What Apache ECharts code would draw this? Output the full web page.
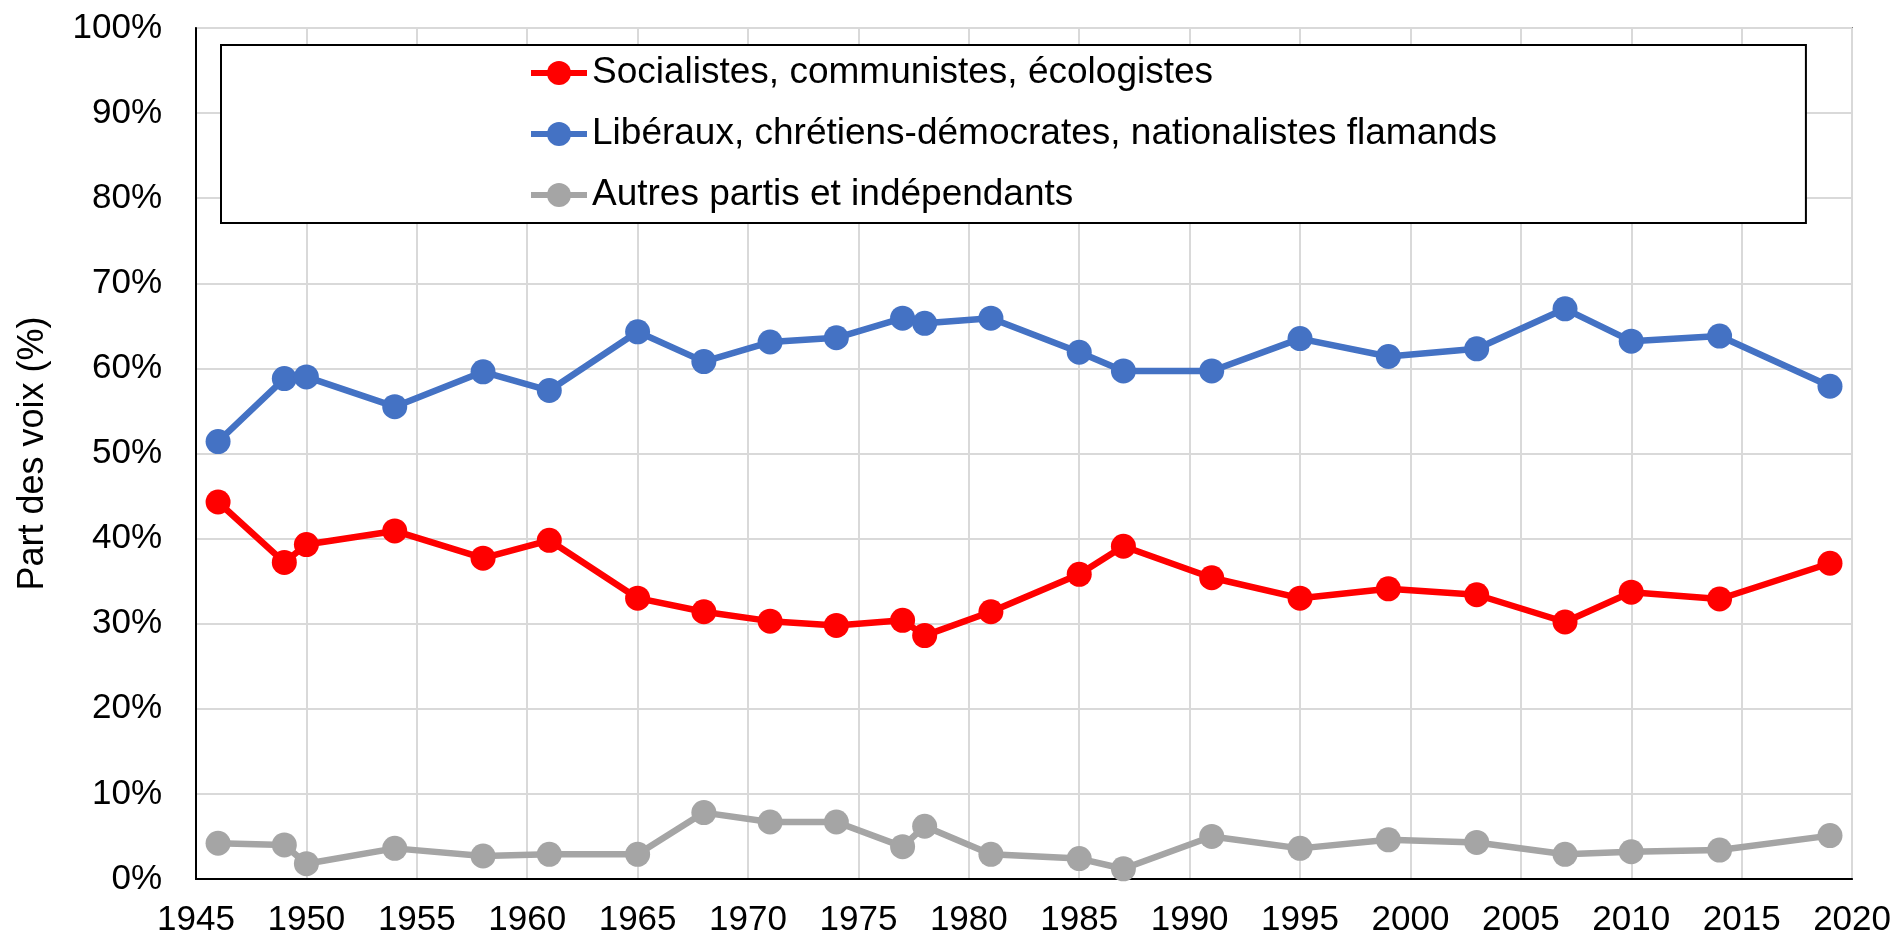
<!DOCTYPE html>
<html>
<head>
<meta charset="utf-8">
<script src="https://cdn.jsdelivr.net/npm/echarts@6/dist/echarts.min.js"></script>
<style>
  html, body { margin: 0; padding: 0; background: #fff; }
  #chart { width: 1894px; height: 941px; }
</style>
</head>
<body>
<div id="chart"></div>
<script>
// années des élections
const years = [1946, 1949, 1950, 1954, 1958, 1961, 1965, 1968, 1971, 1974, 1977, 1978,
  1981, 1985, 1987, 1991, 1995, 1999, 2003, 2007, 2010, 2014, 2019]

const gauche = [44.3, 37.2, 39.3, 40.9, 37.7, 39.8, 33.0, 31.4, 30.3, 29.8, 30.4, 28.6,
  31.4, 35.8, 39.1, 35.4, 33.0, 34.1, 33.4, 30.2, 33.7, 32.9, 37.1]
const droite = [51.4, 58.8, 59.0, 55.5, 59.6, 57.4, 64.3, 60.8, 63.1, 63.6, 65.9, 65.3,
  65.9, 61.9, 59.7, 59.7, 63.5, 61.4, 62.3, 67.0, 63.2, 63.8, 57.9]
const autres = [4.2, 4.0, 1.8, 3.6, 2.7, 2.9, 2.9, 7.8, 6.7, 6.7, 3.8, 6.2,
  2.9, 2.4, 1.2, 5.0, 3.6, 4.6, 4.3, 2.9, 3.2, 3.4, 5.1]

const seriesNames = [
  'Socialistes, communistes, écologistes',
  'Libéraux, chrétiens-démocrates, nationalistes flamands',
  'Autres partis et indépendants',
]
const colors = ['#ff0000', '#4472c4', '#a5a5a5']

const font = "'Liberation Sans', Arial, sans-serif"
const pairs = arr => years.map((y, i) => [y, arr[i]])

const chart = echarts.init(document.getElementById('chart'))

const mkSeries = (name, data, color) => ({
  name, type: 'line', data: pairs(data),
  symbol: 'circle', symbolSize: 25,
  lineStyle: { color, width: 6.5 },
  itemStyle: { color },
  emphasis: { disabled: true },
  z: 3,
})

chart.setOption({
  animation: false,
  textStyle: { fontFamily: font },
  grid: {
    left: 196, right: 39, top: 28, bottom: 62,
    show: true, borderColor: '#262626', borderWidth: 1.5, backgroundColor: 'transparent',
  },
  legend: {
    orient: 'vertical',
    left: 221, top: 45,
    padding: [8, 309, 8, 307],
    borderColor: '#000', borderWidth: 2, backgroundColor: '#fff',
    itemWidth: 56, itemHeight: 30, itemGap: 21,
    lineStyle: { width: 6 },
    textStyle: { fontSize: 37, color: '#000', fontFamily: font, lineHeight: 40 },
    data: seriesNames,
  },
  xAxis: {
    type: 'value', min: 1945, max: 2020, interval: 5,
    axisLine: { show: true, onZero: false, lineStyle: { color: '#000', width: 2 } },
    axisTick: { show: false },
    axisLabel: { fontSize: 35, color: '#000', margin: 24, formatter: v => String(v) },
    splitLine: { show: true, lineStyle: { color: '#d9d9d9', width: 2 } },
  },
  yAxis: {
    type: 'value', min: 0, max: 100, interval: 10,
    name: 'Part des voix (%)', nameLocation: 'middle', nameGap: 145,
    nameTextStyle: { fontSize: 36, color: '#000', fontFamily: font },
    axisLine: { show: true, lineStyle: { color: '#000', width: 2 } },
    axisTick: { show: false },
    axisLabel: { fontSize: 35, color: '#000', margin: 34, formatter: '{value}%' },
    splitLine: { show: true, lineStyle: { color: '#d9d9d9', width: 2 } },
  },
  series: [
    mkSeries(seriesNames[0], gauche, colors[0]),
    mkSeries(seriesNames[1], droite, colors[1]),
    mkSeries(seriesNames[2], autres, colors[2]),
  ],
})
</script>
</body>
</html>
